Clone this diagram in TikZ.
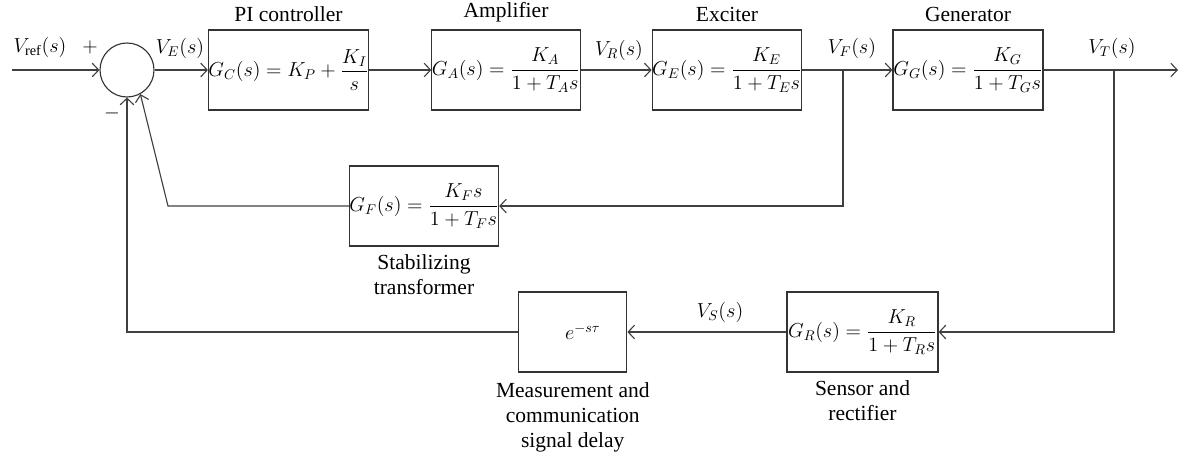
\documentclass[tikz,border=0pt]{standalone}
\usepackage{amsmath,amssymb}
\usepackage{fontspec}
\setmainfont{Liberation Serif}
\usepackage{tikz}
\usetikzlibrary{positioning,arrows.meta,calc}
\tikzset{
block/.style={
draw=black!80,
minimum width=3.7cm,
minimum height=2cm,
inner sep=0pt,
align=center,
line width=0.8pt,
font=\fontsize{13.6}{16}\selectfont
},
sumnode/.style={
draw=black!80,
circle,
minimum size=1.35cm,
inner sep=0pt,
line width=0.8pt
},
arrow/.style={
-{Straight Barb[length=1.6mm,width=3.4mm]},
line width=0.8pt,
black!75
},
every label/.append style={
font=\fontsize{15.3}{18}\selectfont,
inner sep=1pt
}
}

\begin{document}
\begin{tikzpicture}[x=0.025cm,y=-0.025cm,font=\fontsize{14.5}{17.5}\selectfont]
\useasboundingbox (0,0) rectangle (1180,456);

\node[sumnode](sum) at (127,70){};
\node[block,minimum width=3.975cm,label={[yshift=1.5mm]above:PI controller}](pi) at (288.5,70){$G_C(s) = K_P + \dfrac{K_I}{s}$};
\node[block,label={[yshift=1.5mm]above:Amplifier}](amp) at (506,70){$G_A(s) = \dfrac{K_A}{1+T_As}$};
\node[block,label={[yshift=1.5mm]above:Exciter}](exc) at (727,70){$G_E(s) = \dfrac{K_E}{1+T_Es}$};
\node[block,minimum width=3.75cm,label={[yshift=1.5mm]above:Generator}](gen) at (968,70){$G_G(s) = \dfrac{K_G}{1+T_Gs}$};

\node[block,label={[align=center,yshift=-1.5mm]below:Stabilizing\\transformer}](gf) at (424,206){$G_F(s) = \dfrac{K_Fs}{1+T_Fs}$};
\node[block,minimum width=3.775cm,label={[align=center,yshift=-1.5mm]below:Sensor and\\rectifier}](gr) at (862.5,332){$G_R(s) = \dfrac{K_R}{1+T_Rs}$};
\node[block,minimum width=2.7cm,left=3.975cm of gr,label={[align=center,yshift=-2mm]below:Measurement and\\communication\\signal delay}](delay){\hspace{5mm}$e^{-s\tau}$};

% signal names
\node(vref) at (40,47){$V_{\mathrm{ref}}(s)$};
\node(plus) at (90,47){$+$};
\node(minus) at (112,113){$-$};
\node(ve) at (180,48){$V_E(s)$};
\node(vr) at (619,50){$V_R(s)$};
\node(vf) at (852,48){$V_F(s)$};
\node(vt) at (1112,48){$V_T(s)$};
\node(vs) at (720,312){$V_S(s)$};

\coordinate(in) at (12,70);
\coordinate(out) at (1178,70);
\coordinate(bf) at (843,70);
\coordinate(bt) at (1114,70);
\coordinate(kink) at (168,206);

\draw[arrow](in)--(sum);
\foreach \x/\y in {sum/pi,pi/amp,amp/exc,exc/gen,gen/out}
\draw[arrow](\x)--(\y);

\draw[arrow](bf)|-(gf);
\draw[arrow](gf)--(kink)--(sum.-61);
\draw[arrow](bt)|-(gr);
\draw[arrow](gr)--(delay);
\draw[arrow](delay)-|(sum);
\end{tikzpicture}
\end{document}
